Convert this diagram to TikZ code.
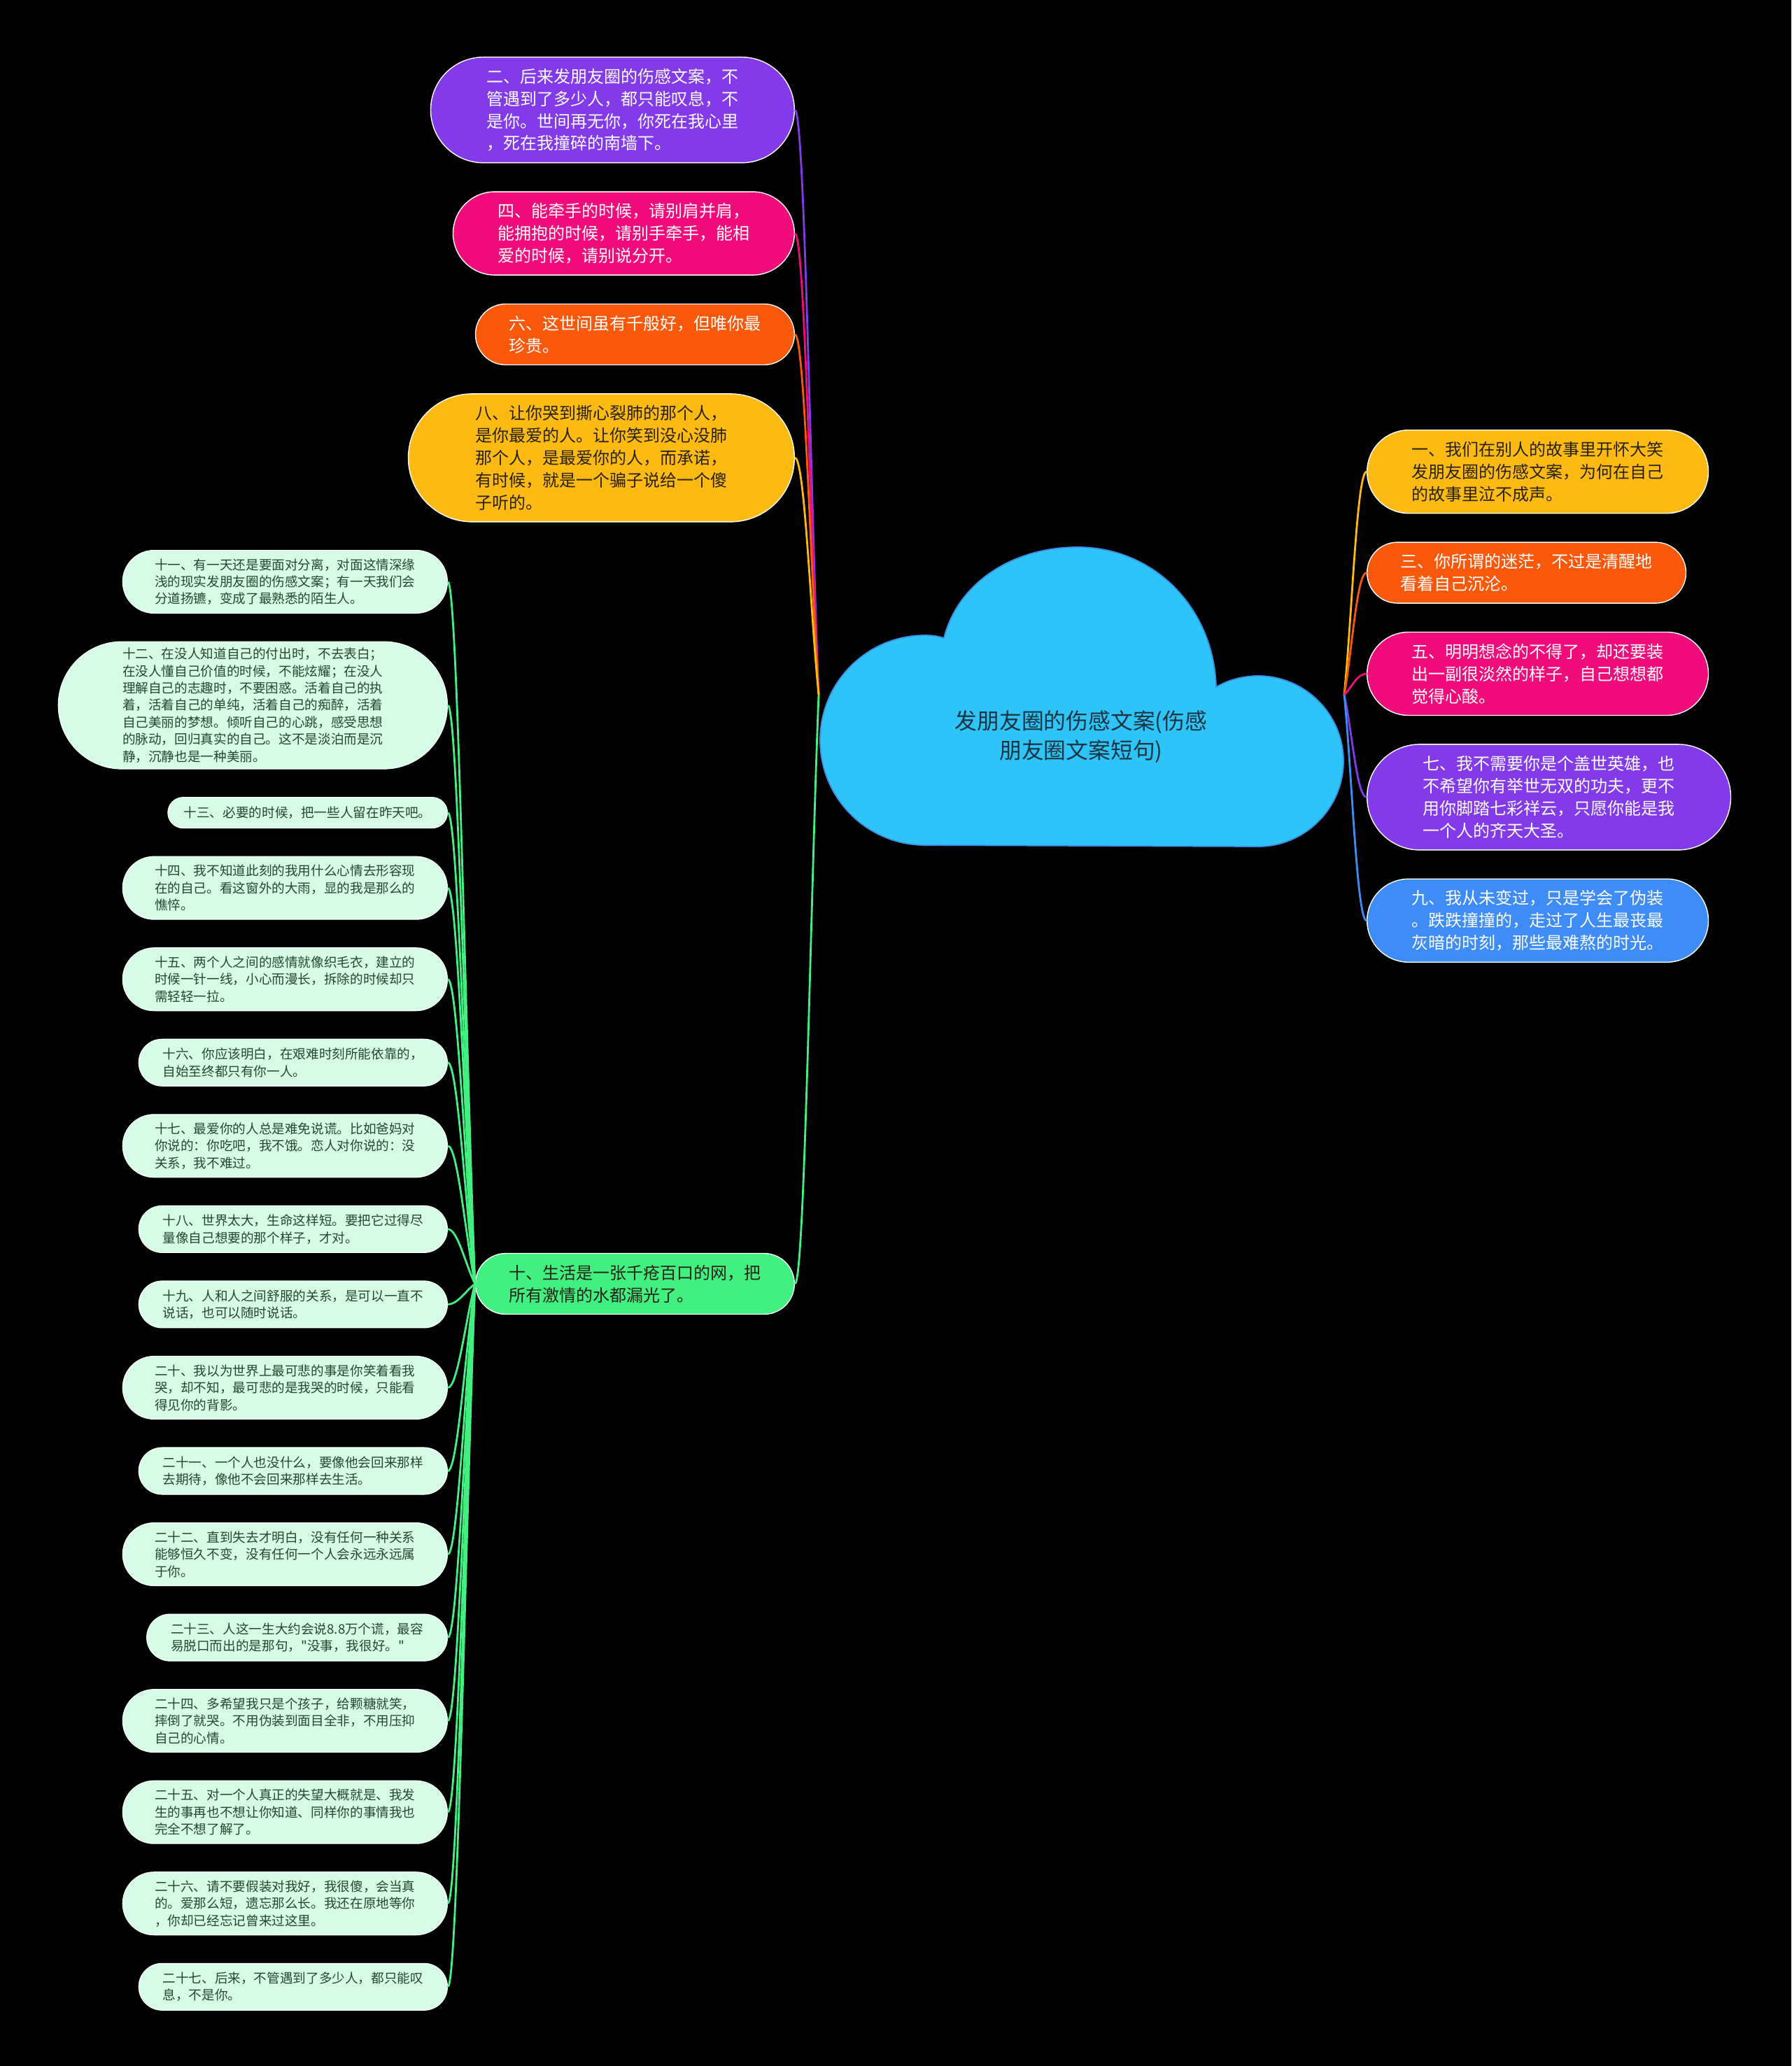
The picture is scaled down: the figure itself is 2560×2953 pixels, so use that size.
\documentclass[tikz,border=0pt]{standalone}
\usepackage{fontspec}
\newfontfamily\cjk{Noto Sans CJK SC}
\definecolor{purp}{RGB}{131,58,233}
\definecolor{rose}{RGB}{240,12,122}
\definecolor{tang}{RGB}{250,88,10}
\definecolor{amber}{RGB}{253,186,18}
\definecolor{azure}{RGB}{62,140,246}
\definecolor{grn}{RGB}{66,240,130}
\definecolor{mint}{RGB}{214,252,229}
\definecolor{sky}{RGB}{47,196,247}
\definecolor{skyedge}{RGB}{60,140,228}
\definecolor{ink}{RGB}{40,34,20}
\definecolor{leafink}{RGB}{38,70,48}
\definecolor{cloudink}{RGB}{28,52,66}
\usetikzlibrary{positioning,calc}
\newcommand\brtxt{\cjk\fontsize{13.66pt}{18.14pt}\selectfont}
\newcommand\lftxt{\cjk\fontsize{10.6pt}{13.9pt}\selectfont}
\newcommand\cltxt{\cjk\fontsize{18.1pt}{23.6pt}\selectfont}

\begin{document}
\begin{tikzpicture}[x=0.02cm, y=-0.02cm]
                \tikzstyle{br} = [rectangle, draw=white, line width=0.8pt, align=left, font=\brtxt, minimum height={(32*#1+23)*0.02cm}, inner ysep=2pt, inner xsep={(16*#1+11.5)*0.02cm+2.5pt}, rounded corners={(16*#1+11.4)*0.02cm}]
                \tikzstyle{lf} = [rectangle, draw=white, line width=0.6pt, fill=mint, text=leafink, align=left, font=\lftxt, minimum height={(23*#1+21)*0.02cm}, inner ysep=2pt, inner xsep={(11.5*#1+10.5)*0.02cm+0.5pt}, rounded corners={(11.5*#1+10.4)*0.02cm}]
                \tikzstyle{ln} = [line width=1.6pt, to path={.. controls ($(\tikztostart)!0.35!(\tikztotarget)$) and ($(\tikztotarget)+(#1,0)$) .. (\tikztotarget)}]

                \fill[black] (0,0) rectangle (2560,2953);

                % cloud
                \fill[sky, draw=skyedge, line width=1pt] (1322,1208)
                  .. controls (1239,1208) and (1172,1141) .. (1172,1058)
                  .. controls (1172,975) and (1239,908) .. (1322,908)
                  .. controls (1331,908) and (1340,909) .. (1349,912)
                  .. controls (1368,835) and (1445,782) .. (1540,782)
                  .. controls (1650,782) and (1735,870) .. (1738,982)
                  .. controls (1755,972) and (1776,966) .. (1798,966)
                  .. controls (1865,966) and (1920,1021) .. (1920,1088)
                  .. controls (1920,1155) and (1865,1210) .. (1798,1210)
                  -- cycle;
                \node [font=\cltxt, align=center, text=cloudink] (root) at (1545,1053) {发朋友圈的伤感文案(伤感\\朋友圈文案短句)};
                \coordinate (rootW) at (1170,993);
                \coordinate (rootE) at (1921,993);

                % left, top
                \node [br=4, fill=purp, text=white, anchor=north east] (n2) at (1136,81) {二、后来发朋友圈的伤感文案，不\\管遇到了多少人，都只能叹息，不\\是你。世间再无你，你死在我心里\\，死在我撞碎的南墙下。};
                \node [br=3, fill=rose, text=white, below=0.8cm of n2.south east, anchor=north east] (n4) {四、能牵手的时候，请别肩并肩，\\能拥抱的时候，请别手牵手，能相\\爱的时候，请别说分开。};
                \node [br=2, fill=tang, text=white, below=0.8cm of n4.south east, anchor=north east] (n6) {六、这世间虽有千般好，但唯你最\\珍贵。};
                \node [br=5, fill=amber, text=ink, below=0.8cm of n6.south east, anchor=north east] (n8) {八、让你哭到撕心裂肺的那个人，\\是你最爱的人。让你笑到没心没肺\\那个人，是最爱你的人，而承诺，\\有时候，就是一个骗子说给一个傻\\子听的。};

                % right
                \node [br=3, fill=amber, text=ink, anchor=north west] (n1) at (1953,614) {一、我们在别人的故事里开怀大笑\\发朋友圈的伤感文案，为何在自己\\的故事里泣不成声。};
                \node [br=2, fill=tang, text=white, below=0.8cm of n1.south west, anchor=north west] (n3) {三、你所谓的迷茫，不过是清醒地\\看着自己沉沦。};
                \node [br=3, fill=rose, text=white, below=0.8cm of n3.south west, anchor=north west] (n5) {五、明明想念的不得了，却还要装\\出一副很淡然的样子，自己想想都\\觉得心酸。};
                \node [br=4, fill=purp, text=white, below=0.8cm of n5.south west, anchor=north west] (n7) {七、我不需要你是个盖世英雄，也\\不希望你有举世无双的功夫，更不\\用你脚踏七彩祥云，只愿你能是我\\一个人的齐天大圣。};
                \node [br=3, fill=azure, text=white, below=0.8cm of n7.south west, anchor=north west] (n9) {九、我从未变过，只是学会了伪装\\。跌跌撞撞的，走过了人生最丧最\\灰暗的时刻，那些最难熬的时光。};

                % left, bottom
                \node [br=2, fill=grn, text=ink, anchor=east] (n10) at (1136,1835) {十、生活是一张千疮百口的网，把\\所有激情的水都漏光了。};

                \node [lf=3, anchor=north east] (n11) at (640,786) {十一、有一天还是要面对分离，对面这情深缘\\浅的现实发朋友圈的伤感文案；有一天我们会\\分道扬镳，变成了最熟悉的陌生人。};
                \node [lf=7, below=0.79cm of n11.south east, anchor=north east] (n12) {十二、在没人知道自己的付出时，不去表白；\\在没人懂自己价值的时候，不能炫耀；在没人\\理解自己的志趣时，不要困惑。活着自己的执\\着，活着自己的单纯，活着自己的痴醉，活着\\自己美丽的梦想。倾听自己的心跳，感受思想\\的脉动，回归真实的自己。这不是淡泊而是沉\\静，沉静也是一种美丽。};
                \node [lf=1, below=0.79cm of n12.south east, anchor=north east] (n13) {十三、必要的时候，把一些人留在昨天吧。};
                \node [lf=3, below=0.79cm of n13.south east, anchor=north east] (n14) {十四、我不知道此刻的我用什么心情去形容现\\在的自己。看这窗外的大雨，显的我是那么的\\憔悴。};
                \node [lf=3, below=0.79cm of n14.south east, anchor=north east] (n15) {十五、两个人之间的感情就像织毛衣，建立的\\时候一针一线，小心而漫长，拆除的时候却只\\需轻轻一拉。};
                \node [lf=2, below=0.79cm of n15.south east, anchor=north east] (n16) {十六、你应该明白，在艰难时刻所能依靠的，\\自始至终都只有你一人。};
                \node [lf=3, below=0.79cm of n16.south east, anchor=north east] (n17) {十七、最爱你的人总是难免说谎。比如爸妈对\\你说的：你吃吧，我不饿。恋人对你说的：没\\关系，我不难过。};
                \node [lf=2, below=0.79cm of n17.south east, anchor=north east] (n18) {十八、世界太大，生命这样短。要把它过得尽\\量像自己想要的那个样子，才对。};
                \node [lf=2, below=0.79cm of n18.south east, anchor=north east] (n19) {十九、人和人之间舒服的关系，是可以一直不\\说话，也可以随时说话。};
                \node [lf=3, below=0.79cm of n19.south east, anchor=north east] (n20) {二十、我以为世界上最可悲的事是你笑着看我\\哭，却不知，最可悲的是我哭的时候，只能看\\得见你的背影。};
                \node [lf=2, below=0.79cm of n20.south east, anchor=north east] (n21) {二十一、一个人也没什么，要像他会回来那样\\去期待，像他不会回来那样去生活。};
                \node [lf=3, below=0.79cm of n21.south east, anchor=north east] (n22) {二十二、直到失去才明白，没有任何一种关系\\能够恒久不变，没有任何一个人会永远永远属\\于你。};
                \node [lf=2, below=0.79cm of n22.south east, anchor=north east] (n23) {二十三、人这一生大约会说8.8万个谎，最容\\易脱口而出的是那句，"没事，我很好。"};
                \node [lf=3, below=0.79cm of n23.south east, anchor=north east] (n24) {二十四、多希望我只是个孩子，给颗糖就笑，\\摔倒了就哭。不用伪装到面目全非，不用压抑\\自己的心情。};
                \node [lf=3, below=0.79cm of n24.south east, anchor=north east] (n25) {二十五、对一个人真正的失望大概就是、我发\\生的事再也不想让你知道、同样你的事情我也\\完全不想了解了。};
                \node [lf=3, below=0.79cm of n25.south east, anchor=north east] (n26) {二十六、请不要假装对我好，我很傻，会当真\\的。爱那么短，遗忘那么长。我还在原地等你\\，你却已经忘记曾来过这里。};
                \node [lf=2, below=0.79cm of n26.south east, anchor=north east] (n27) {二十七、后来，不管遇到了多少人，都只能叹\\息，不是你。};

                % links
                \draw [ln=14, purp] (rootW) to (n2.east);
                \draw [ln=14, rose] (rootW) to (n4.east);
                \draw [ln=14, tang] (rootW) to (n6.east);
                \draw [ln=14, amber] (rootW) to (n8.east);
                \draw [ln=14, grn] (rootW) to (n10.east);
                \draw [ln=-14, amber] (rootE) to (n1.west);
                \draw [ln=-14, tang] (rootE) to (n3.west);
                \draw [ln=-14, rose] (rootE) to (n5.west);
                \draw [ln=-14, purp] (rootE) to (n7.west);
                \draw [ln=-14, azure] (rootE) to (n9.west);
                \foreach \k in {11,...,27}
                  \draw [ln=14, grn] (n10.west) to (n\k.east);
            \end{tikzpicture}
\end{document}
